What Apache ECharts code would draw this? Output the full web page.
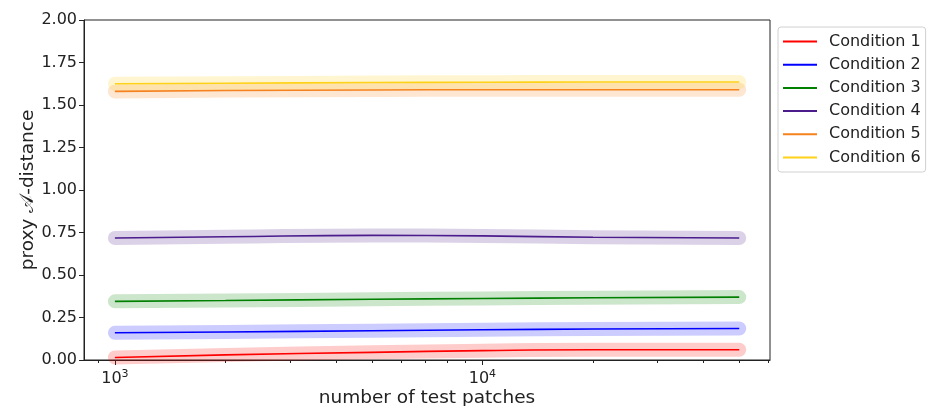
<!DOCTYPE html>
<html>
<head>
<meta charset="utf-8">
<script src="https://cdn.jsdelivr.net/npm/echarts@6/dist/echarts.min.js"></script>
<style>html,body{margin:0;padding:0;background:#fff;}#c{width:929px;height:406px;}</style>
</head>
<body>
<div id="c"></div>
<script>
const testPatches = [1000, 2000, 5000, 10000, 20000, 50000];
const condNames = ['Condition 1','Condition 2','Condition 3','Condition 4','Condition 5','Condition 6'];
const cond1 = [0.015, 0.030, 0.045, 0.055, 0.060, 0.060];
const cond2 = [0.160, 0.165, 0.172, 0.178, 0.182, 0.185];
const cond3 = [0.345, 0.350, 0.357, 0.362, 0.366, 0.370];
const cond4 = [0.718, 0.725, 0.733, 0.730, 0.722, 0.718];
const cond5 = [1.580, 1.585, 1.588, 1.590, 1.590, 1.590];
const cond6 = [1.625, 1.628, 1.632, 1.634, 1.635, 1.635];
const yTicks = [0, 0.25, 0.5, 0.75, 1.0, 1.25, 1.5, 1.75, 2.0];
const xMajorTicks = [1000, 10000];
const xMinorTicks = [900, 2000, 3000, 4000, 5000, 6000, 7000, 8000, 9000, 20000, 30000, 40000, 50000, 60000];
const xMin = 824, xMax = 60630;

const colors = ['#ff0000', '#0000ff', '#008000', '#4b1c8c', '#f5821f', '#ffd21a'];
const allData = [cond1, cond2, cond3, cond4, cond5, cond6];
const lg = Math.log10;
const font = 'DejaVu Sans';
const ink = '#222';

const series = [];
allData.forEach((vals, i) => {
  const pts = testPatches.map((n, j) => [lg(n), vals[j]]);
  series.push({
    name: 'band' + i, type: 'line', data: pts, smooth: true, symbol: 'none', silent: true,
    z: 1, lineStyle: { width: 14, color: colors[i], opacity: 0.2, cap: 'round', join: 'round' }
  });
});
allData.forEach((vals, i) => {
  const pts = testPatches.map((n, j) => [lg(n), vals[j]]);
  series.push({
    name: condNames[i], type: 'line', data: pts, smooth: true, symbol: 'none',
    z: 3, color: colors[i], lineStyle: { width: 1.6, color: colors[i] }
  });
});

const chart = echarts.init(document.getElementById('c'), null, { renderer: 'canvas' });
chart.setOption({
  animation: false,
  textStyle: { fontFamily: font },
  grid: { left: 84, right: 159, top: 20, bottom: 46, containLabel: false, outerBoundsMode: 'none',
          show: true, borderColor: ink, borderWidth: 1, backgroundColor: 'transparent' },
  legend: {
    data: condNames, orient: 'vertical', left: 778, top: 27,
    icon: 'rect', itemWidth: 34, itemHeight: 2, itemGap: 4.2,
    padding: [5, 5, 5, 5],
    borderColor: '#d0d0d0', borderWidth: 1, borderRadius: 3,
    textStyle: { fontFamily: font, fontSize: 16, color: ink, lineHeight: 19, padding: [0, 0, 0, 7] }
  },
  xAxis: [{
    type: 'value', min: lg(xMin), max: lg(xMax), gridIndex: 0,
    name: 'number of test patches', nameLocation: 'middle', nameGap: 29, nameMoveOverlap: false,
    nameTextStyle: { fontFamily: font, fontSize: 18.5, color: ink },
    axisLine: { lineStyle: { color: ink, width: 1 } },
    splitLine: { show: false },
    axisTick: { show: true, length: 5, customValues: xMajorTicks.map(lg), lineStyle: { color: ink } },
    axisLabel: {
      customValues: xMajorTicks.map(lg), margin: 9,
      formatter: v => '{b|10}{s|' + Math.round(v) + '}',
      rich: {
        b: { fontFamily: font, fontSize: 16, color: ink },
        s: { fontFamily: font, fontSize: 11, color: ink, padding: [0, 0, 9, 0] }
      }
    }
  }, {
    type: 'value', min: lg(xMin), max: lg(xMax), gridIndex: 0, position: 'bottom',
    axisLine: { show: false }, splitLine: { show: false }, axisLabel: { show: false },
    axisTick: { show: true, length: 3, customValues: xMinorTicks.map(lg), lineStyle: { color: ink } }
  }],
  yAxis: {
    type: 'value', min: 0, max: 2, interval: 0.25,
    name: 'proxy 𝒜-distance', nameLocation: 'middle', nameGap: 46, nameMoveOverlap: false,
    nameTextStyle: { fontFamily: font, fontSize: 18.5, color: ink },
    axisLine: { show: true, lineStyle: { color: ink, width: 1 } },
    splitLine: { show: false },
    axisTick: { show: true, length: 5, lineStyle: { color: ink } },
    axisLabel: { fontFamily: font, fontSize: 16, color: ink, margin: 7, formatter: v => v.toFixed(2) }
  },
  series: series
});
</script>
</body>
</html>
